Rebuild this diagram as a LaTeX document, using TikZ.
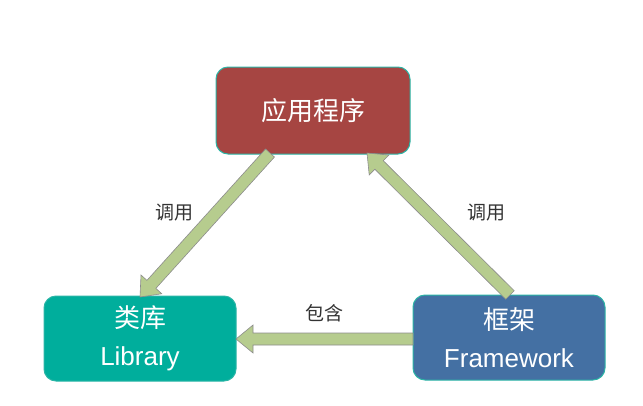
\documentclass[tikz,border=0pt]{standalone}
\usepackage{fontspec}
\setmainfont{Liberation Sans}
\newfontfamily\cjk{Noto Sans CJK SC}
\usetikzlibrary{calc}
\definecolor{appred}{HTML}{A64542}
\definecolor{libteal}{HTML}{00AE9C}
\definecolor{fwblue}{HTML}{4470A3}
\definecolor{edgeteal}{HTML}{2BB5A6}
\definecolor{arrowgreen}{HTML}{B6CC8E}
\definecolor{arrowgray}{HTML}{8C8C8C}
\definecolor{labelgray}{HTML}{333333}
\newcommand\blockarrow[2]{%
  \coordinate (ba-c) at ($(#2)!17pt!(#1)$);
  \draw[blockarrowstyle] ($(#1)!6pt!-90:(#2)$) -- ($(ba-c)!6pt!90:(#1)$) -- ($(ba-c)!14pt!90:(#1)$) -- (#2) -- ($(ba-c)!14pt!-90:(#1)$) -- ($(ba-c)!6pt!-90:(#1)$) -- ($(#1)!6pt!90:(#2)$) -- cycle;}
\tikzset{
  box/.style={draw=edgeteal, line width=1pt, rounded corners=12pt, minimum width=192pt, minimum height=85pt, inner sep=0pt, align=center, text=white, font=\fontsize{26}{38}\selectfont},
  blockarrowstyle/.style={fill=arrowgreen, draw=arrowgray, line width=0.6pt, line join=miter},
  lbl/.style={text=labelgray, font=\cjk\fontsize{19}{22}\selectfont, inner sep=0pt}
}
\begin{document}
\begin{tikzpicture}[x=1pt,y=-1pt]
\useasboundingbox (0,0) rectangle (643,405);
\node[box, fill=appred, minimum width=194pt, minimum height=87pt] (app) at (313,110.5) {\cjk 应用程序};
\node[box, fill=libteal] (lib) at (140,338.5) {{\cjk 类库}\\Library};
\node[box, fill=fwblue] (fw) at (509,337.5) {{\cjk 框架}\\Framework};
\coordinate (la-tail) at (270,153);
\coordinate (la-tip) at (140,297);
\coordinate (ra-tail) at (510,295);
\coordinate (ra-tip) at (367,153);
\coordinate (ha-tail) at (413,339);
\coordinate (ha-tip) at (236,339);
\blockarrow{la-tail}{la-tip}
\blockarrow{ra-tail}{ra-tip}
\blockarrow{ha-tail}{ha-tip}
\node[lbl] (l1) at (174,213) {调用};
\node[lbl] (l2) at (486,213) {调用};
\node[lbl] (l3) at (324,313) {包含};
\end{tikzpicture}
\end{document}
